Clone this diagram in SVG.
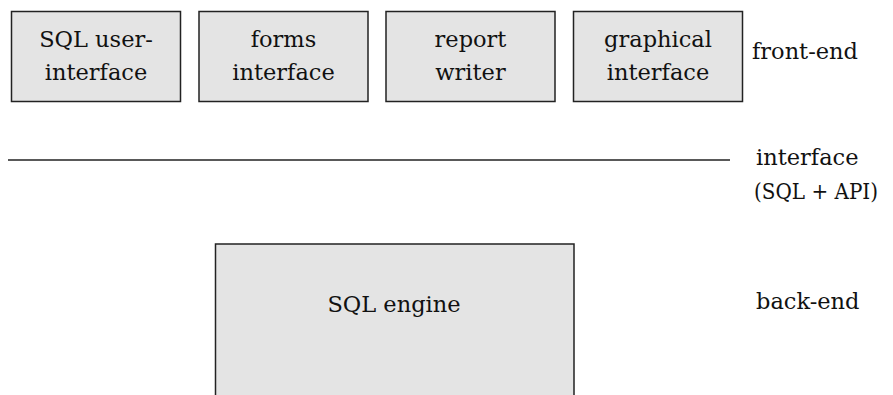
<svg xmlns="http://www.w3.org/2000/svg" width="893" height="395" viewBox="0 0 893 395">
<style>
.box{fill:#e4e4e4;stroke:#222;stroke-width:1.5}
.t{font-family:'DejaVu Serif', serif;font-size:22.5px;fill:#111}
.c{text-anchor:middle}
</style>
<rect width="893" height="395" fill="#fff"/>
<g id="sql-user-interface"><rect class="box" x="11.5" y="11.5" width="169" height="90"/><text class="t c" x="96" y="47">SQL user-</text><text class="t c" x="96" y="80">interface</text></g>
<g id="forms-interface"><rect class="box" x="199" y="11.5" width="169" height="90"/><text class="t c" x="283.5" y="47">forms</text><text class="t c" x="283.5" y="80">interface</text></g>
<g id="report-writer"><rect class="box" x="386" y="11.5" width="169" height="90"/><text class="t c" x="470.5" y="47">report</text><text class="t c" x="470.5" y="80">writer</text></g>
<g id="graphical-interface"><rect class="box" x="573.5" y="11.5" width="169" height="90"/><text class="t c" x="658" y="47">graphical</text><text class="t c" x="658" y="80">interface</text></g>
<g id="sql-engine"><rect class="box" x="215.5" y="244" width="358.5" height="160"/><text class="t c" x="394" y="312">SQL engine</text></g>
<g id="connectors"><line x1="8" y1="160" x2="730" y2="160" stroke="#222" stroke-width="1.5"/></g>
<g id="labels">
<text class="t" x="752" y="59">front-end</text>
<text class="t" x="756" y="165">interface</text>
<text class="t" x="754" y="199" font-size="20.5" textLength="124" lengthAdjust="spacingAndGlyphs">(SQL + API)</text>
<text class="t" x="756" y="309">back-end</text>
</g>
</svg>
